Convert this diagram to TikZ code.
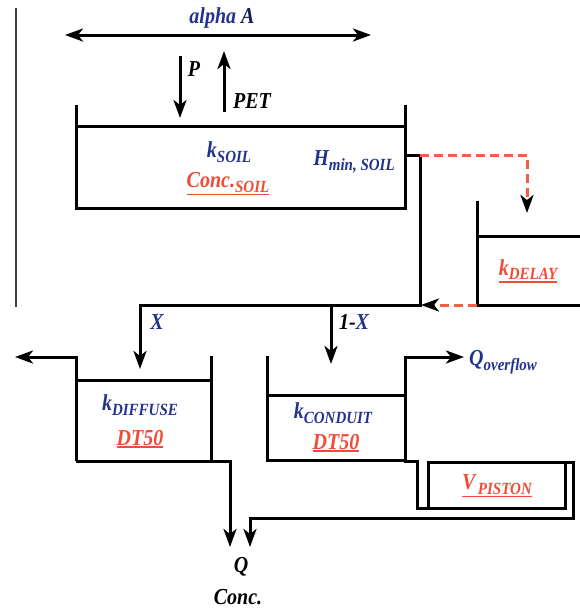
\documentclass[tikz,border=0pt]{standalone}
\usepackage{fontspec}
\usepackage{graphicx}
\setmainfont{Liberation Serif}
\usetikzlibrary{arrows.meta}
\definecolor{tblue}{RGB}{35,50,140}
\definecolor{tnavy}{RGB}{25,30,85}
\definecolor{tred}{RGB}{240,75,55}
\definecolor{dred}{RGB}{240,95,70}
\newcommand{\mysub}[1]{\raisebox{-0.45ex}{\fontsize{15}{15}\selectfont #1}}
\newcommand{\myul}[1]{\setbox0\hbox{#1}\leavevmode\rlap{\copy0}\rule[\dimexpr-\dp0-2.5pt\relax]{\wd0}{1.5pt}}
\newcommand{\tall}[1]{\scalebox{1}[1.14]{#1}}
\tikzset{
  wall/.style={line width=3pt, line cap=rect, line join=miter},
  flow/.style={line width=3pt, -{Stealth[length=18pt,width=13pt,inset=5pt]}},
  dflow/.style={line width=3pt, dred, dash pattern=on 9pt off 5pt, -{Stealth[length=18pt,width=13pt,inset=5pt,black]}},
  lbl/.style={font=\fontsize{20}{22}\selectfont\bfseries\itshape, inner sep=0pt},
  blbl/.style={lbl, text=tblue},
  rlbl/.style={lbl, text=tred},
  klbl/.style={lbl, text=black}
}
\begin{document}
\begin{tikzpicture}[x=1pt,y=-1pt]
\useasboundingbox (0,0) rectangle (580,611);
% thin left rule
\draw[line width=1.2pt, black!75] (16,8) -- (16,307);
% alpha A
\coordinate (aL) at (65,35);
\coordinate (aR) at (371,35);
\draw[line width=3pt, {Stealth[length=18pt,width=13pt,inset=5pt]}-{Stealth[length=18pt,width=13pt,inset=5pt]}] (aL) -- (aR);
\node[blbl] (alpha) at (222,18) {\tall{alpha \textcolor{tnavy}{A}}};
% P and PET
\coordinate (p1) at (180,56); \coordinate (p2) at (180,118);
\draw[flow] (p1) -- (p2);
\node[klbl] (P) at (194,69) {\tall{P}};
\coordinate (e1) at (224,112); \coordinate (e2) at (224,51);
\draw[flow] (e1) -- (e2);
\node[klbl] (PET) at (252,101) {\tall{PET}};
% soil box
\draw[wall] (76,106) -- (76,208) -- (405,208) -- (405,106);
\draw[wall] (76,126) -- (405,126);
\node[blbl] (ksoil) at (229,152) {\tall{k\mysub{SOIL}}};
\node[blbl] (hmin) at (354,162) {\tall{H\mysub{min, SOIL}}};
\node[rlbl] (csoil) at (228,184) {\tall{\myul{Conc.\mysub{SOIL}}}};
% outlet
\coordinate (o1) at (405,155);
\coordinate (o2) at (420,155);
\coordinate (j) at (420,305);
\coordinate (jl) at (140,305);
\draw[wall] (o1) -- (o2) -- (j) -- (jl);
% delay
\coordinate (d1) at (527,155);
\coordinate (d2) at (527,213);
\draw[dflow] (o2) -- (d1) -- (d2);
\draw[wall] (477,202) -- (477,305) -- (580,305);
\draw[wall] (477,236) -- (580,236);
\node[rlbl] (kdelay) at (528,271) {\tall{\myul{k\mysub{DELAY}}}};
\coordinate (dl) at (477,305);
\coordinate (jr) at (421,305);
\draw[dflow] (dl) -- (jr);
% X and 1-X
\coordinate (x2) at (140,369);
\draw[flow] (jl) -- (x2);
\node[blbl] (X) at (157,322) {\tall{X}};
\coordinate (y1) at (331,305);
\coordinate (y2) at (331,364);
\draw[flow] (y1) -- (y2);
\node[klbl] (oneX) at (354,322) {\tall{1-\textcolor{tblue}{X}}};
% diffuse box
\draw[wall] (211,357) -- (211,461);
\draw[wall] (76,380) -- (211,380);
\coordinate (dfo) at (76,357);
\coordinate (dfl) at (15,357);
\draw[flow] (76,461) -- (dfo) -- (dfl);
\coordinate (q1) at (230,547);
\draw[flow] (76,461) -- (230,461) -- (q1);
\node[blbl] (kdiff) at (140,405) {\tall{k\mysub{DIFFUSE}}};
\node[rlbl] (dt1) at (140,439) {\tall{\myul{DT50}}};
% conduit box
\draw[wall] (267,357) -- (267,460) -- (405,460);
\draw[wall] (267,395) -- (405,395);
\coordinate (cov) at (405,357);
\coordinate (qov) at (464,357);
\draw[flow] (405,460) -- (cov) -- (qov);
\node[blbl, anchor=west] (Qov) at (469,362) {\tall{Q\mysub{overflow}}};
\node[blbl] (kcond) at (333,413) {\tall{k\mysub{CONDUIT}}};
\node[rlbl] (dt2) at (336,443) {\tall{\myul{DT50}}};
% piston
\draw[wall] (405,461) -- (417,461) -- (417,508) -- (565,508) -- (565,462) -- (428,462) -- (428,508);
\coordinate (q2) at (250,547);
\draw[flow] (565,462) -- (573,462) -- (573,518) -- (250,518) -- (q2);
\node[rlbl] (vpist) at (497,486) {\tall{\myul{V\mysub{\,PISTON}}}};
% outputs
\node[klbl] (Q) at (241,567) {\tall{Q}};
\node[klbl] (conc) at (238,597) {\tall{Conc.}};
\end{tikzpicture}
\end{document}
